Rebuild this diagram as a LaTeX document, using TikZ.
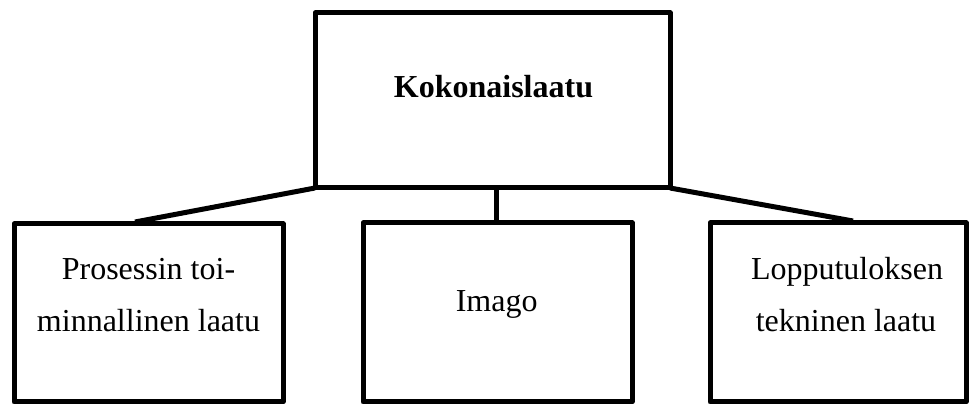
\documentclass[tikz,border=0pt]{standalone}
\usepackage{fontspec}
\setmainfont{Liberation Serif}
\usetikzlibrary{calc}
\begin{document}
\begin{tikzpicture}[x=1pt,y=1pt,
  box/.style={draw=black,line width=5pt,line join=round,rectangle,inner sep=0pt,outer sep=0pt},
  conn/.style={draw=black,line width=5pt,line cap=butt},
  lbl/.style={anchor=base,inner sep=0pt,font=\fontsize{32}{52}\selectfont}]
\useasboundingbox (0,0) rectangle (971,406);
\node[box,minimum width=355pt,minimum height=175pt] (top) at (492.5,305.5) {};
\node[box,minimum width=269pt,minimum height=178pt] (left) at (148.5,93) {};
\node[box,minimum width=269pt,minimum height=179pt] (mid) at (497.5,93.5) {};
\node[box,minimum width=256pt,minimum height=179pt] (right) at (838,93.5) {};
\coordinate (lend) at ($(left.north)+(-13.5,2)$);
\coordinate (rend) at ($(right.north)+(15,2)$);
\draw[conn] (top.south west) -- (lend);
\draw[conn] (top.south east) -- (rend);
\draw[conn] (mid.north -| 496,0) -- (top.south -| 496,0);
\node[lbl,font=\fontsize{32}{52}\selectfont\bfseries] (ttop) at (493.5,308) {Kokonaislaatu};
\node[lbl] (tl1) at (148.5,126) {Prosessin toi-};
\node[lbl] (tl2) at (148.5,74) {minnallinen laatu};
\node[lbl] (tmid) at (496.7,94) {Imago};
\node[lbl] (tr1) at (847,126) {Lopputuloksen};
\node[lbl] (tr2) at (846,74) {tekninen laatu};
\end{tikzpicture}
\end{document}
